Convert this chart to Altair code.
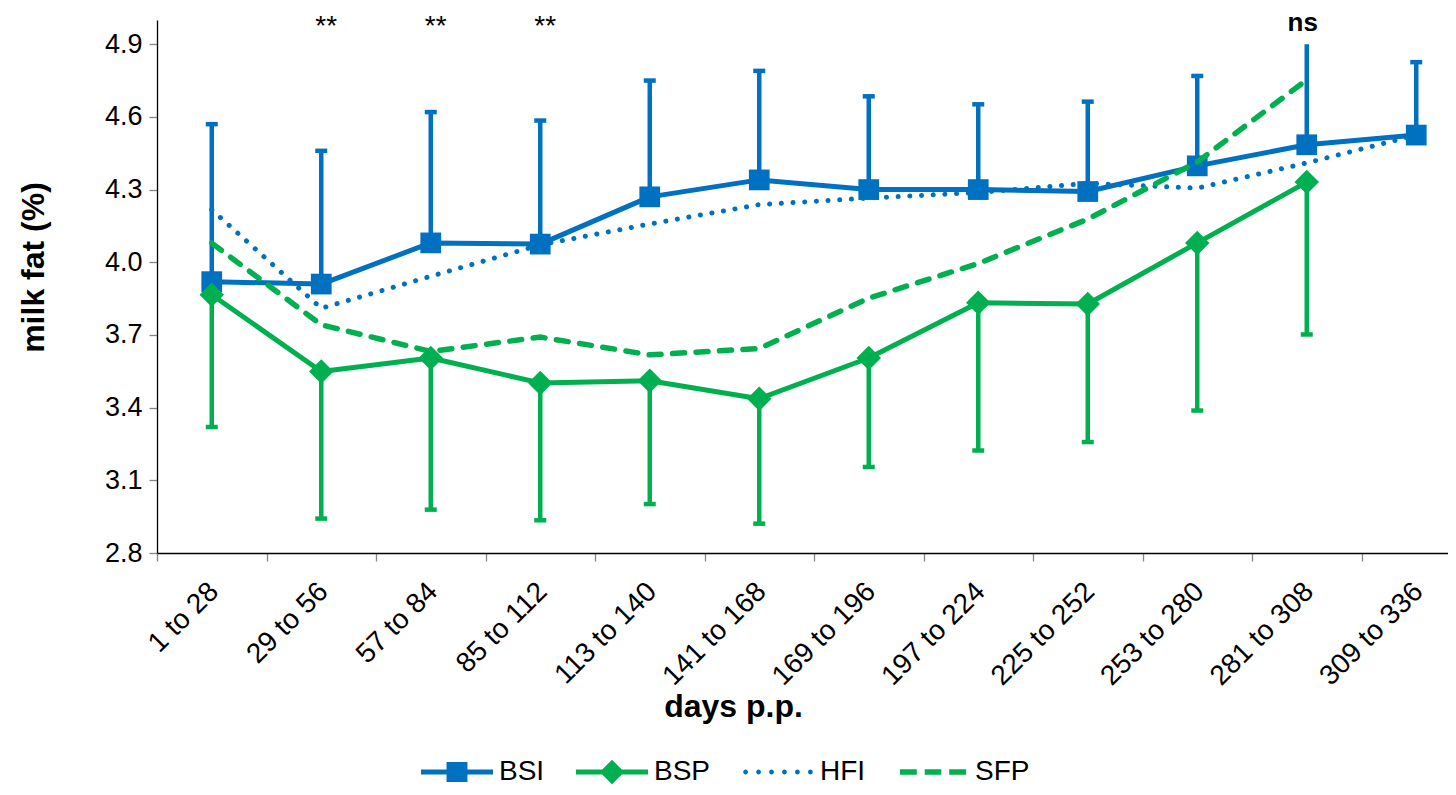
import altair as alt
import pandas as pd

categories = ["1 to 28", "29 to 56", "57 to 84", "85 to 112", "113 to 140", "141 to 168",
              "169 to 196", "197 to 224", "225 to 252", "253 to 280", "281 to 308", "309 to 336"]
series_names = ["BSI", "BSP", "HFI", "SFP"]

bsi_mean = [3.92, 3.91, 4.08, 4.075, 4.27, 4.34, 4.30, 4.30, 4.292, 4.398, 4.485, 4.525]
bsi_upper = [4.57, 4.46, 4.62, 4.585, 4.75, 4.79, 4.685, 4.652, 4.663, 4.769, 4.90, 4.826]
bsp_mean = [3.866, 3.549, 3.605, 3.502, 3.511, 3.437, 3.605, 3.833, 3.828, 4.08, 4.331, None]
bsp_lower = [3.32, 2.942, 2.979, 2.935, 3.002, 2.921, 3.155, 3.223, 3.258, 3.388, 3.702, None]
hfi_mean = [4.217, 3.81, 3.942, 4.072, 4.158, 4.238, 4.265, 4.288, 4.326, 4.306, 4.41, 4.525]
sfp_mean = [4.079, 3.742, 3.632, 3.691, 3.618, 3.644, 3.852, 3.995, 4.178, 4.414, 4.753, None]
capless = ["281 to 308"]  # BSI error bar drawn without cap there

sig_labels = ["", "**", "**", "**", "", "", "", "", "", "", "ns", ""]
star_level = 4.94
ns_level = 4.955

y_ticks = [2.8, 3.1, 3.4, 3.7, 4.0, 4.3, 4.6, 4.9]

BLUE = "#0070C0"
GREEN = "#00B050"
FONT = "Liberation Sans"
series_colors = [BLUE, GREEN, BLUE, GREEN]

rows = []
for name, vals, errs in [("BSI", bsi_mean, bsi_upper), ("BSP", bsp_mean, bsp_lower),
                         ("HFI", hfi_mean, [None] * 12), ("SFP", sfp_mean, [None] * 12)]:
    for c, v, e in zip(categories, vals, errs):
        if v is None:
            continue
        cap = None if (e is None or (name == "BSI" and c in capless)) else e
        rows.append({"cat": c, "series": name, "value": v, "err": e, "cap": cap})
df = pd.DataFrame(rows)

stars_df = pd.DataFrame({"cat": [c for c, s in zip(categories, sig_labels) if s == "**"],
                         "sig": [s for s in sig_labels if s == "**"]})
stars_df["lvl"] = star_level
ns_df = pd.DataFrame({"cat": [c for c, s in zip(categories, sig_labels) if s == "ns"],
                      "sig": [s for s in sig_labels if s == "ns"]})
ns_df["lvl"] = ns_level

x_axis = alt.Axis(
    title="days p.p.", labelAngle=315, labelAlign="right", labelBaseline="middle",
    labelFontSize=28, labelColor="black", labelFont=FONT, labelOffset=2, labelPadding=26,
    labelOverlap=False, tickBand="extent", tickSize=8, tickColor="#868686", tickWidth=1.3,
    domainColor="black", domainWidth=1.3, titleFontSize=32, titleFontWeight="bold",
    titleFont=FONT, titleColor="black", titleX=576, titleY=163, titleAlign="center",
    titleBaseline="alphabetic", grid=False)
x_enc = alt.X("cat:N", sort=categories,
              scale=alt.Scale(type="band", domain=categories, paddingInner=0, paddingOuter=0,
                              range=[0, 1314]),
              axis=x_axis)

y_axis = alt.Axis(
    title="milk fat (%)", values=y_ticks, format=".1f", labelFontSize=27, labelColor="black",
    labelFont=FONT, labelPadding=7, labelOverlap=False, tickSize=8, tickColor="#868686",
    tickWidth=1.3, domainColor="black", domainWidth=1.3, grid=False, titleFontSize=32,
    titleFontWeight="bold", titleFont=FONT, titleColor="black", titleAngle=270,
    titleX=-124, titleY=247, titleAlign="center", titleBaseline="middle")
y_scale = alt.Scale(domain=[2.8, 5.0], nice=False, zero=False)


def yenc(field):
    return alt.Y(field, type="quantitative", scale=y_scale, axis=y_axis)


base = alt.Chart(df)


def only(name):
    return base.transform_filter(alt.datum.series == name)


def stem(name, color):
    return only(name).transform_filter("isValid(datum.err)").mark_rule(
        strokeWidth=4.5, color=color).encode(x=x_enc, y=yenc("value"), y2="err:Q")


def cap(name, color):
    return only(name).transform_filter("isValid(datum.cap)").mark_tick(
        size=12, thickness=4.5, opacity=1, color=color).encode(x=x_enc, y=yenc("cap"))


def line_layer(name, color, **kw):
    return only(name).mark_line(color=color, **kw).encode(x=x_enc, y=yenc("value"))


bsi_stem, bsp_stem = stem("BSI", BLUE), stem("BSP", GREEN)
bsi_cap, bsp_cap = cap("BSI", BLUE), cap("BSP", GREEN)
bsi_line = line_layer("BSI", BLUE, strokeWidth=5, strokeJoin="round")
bsp_line = line_layer("BSP", GREEN, strokeWidth=5, strokeJoin="round")
hfi_line = line_layer("HFI", BLUE, strokeWidth=5, strokeDash=[0.1, 11.6], strokeCap="round")
sfp_line = line_layer("SFP", GREEN, strokeWidth=5.5, strokeDash=[12, 11.5], strokeCap="round")

bsi_pts = only("BSI").mark_point(filled=True, shape="square", size=430, opacity=1,
                                 color=BLUE).encode(x=x_enc, y=yenc("value"))
bsp_pts = only("BSP").mark_point(filled=True, shape="diamond", size=600, opacity=1,
                                 color=GREEN).encode(x=x_enc, y=yenc("value"))

# legend symbols (line + marker glyphs) as custom paths in the unit box
line_bar = "M-1,-0.07L1,-0.07L1,0.07L-1,0.07Z"
sym_bsi = line_bar + "M-0.29,-0.28L0.29,-0.28L0.29,0.28L-0.29,0.28Z"
sym_bsp = line_bar + "M0,-0.34L0.34,0L0,0.34L-0.34,0Z"
r = 0.066
sym_hfi = "".join(
    f"M{cx - r:.3f},0a{r},{r} 0 1,0 {2 * r:.3f},0a{r},{r} 0 1,0 {-2 * r:.3f},0"
    for cx in [-0.9, -0.54, -0.18, 0.18, 0.54, 0.9])
sym_sfp = "".join(
    f"M{a},-0.075L{b},-0.075L{b},0.075L{a},0.075Z"
    for a, b in [(-0.92, -0.45), (-0.23, 0.23), (0.45, 0.92)])

legend_spec = alt.Legend(
    title=None, orient="none", legendX=264, legendY=716, direction="horizontal", columns=4,
    columnPadding=31, labelOffset=6, symbolSize=5184, symbolStrokeWidth=0, symbolOpacity=1,
    labelFontSize=28, labelFont=FONT, labelColor="black", padding=0)

legend_layer = base.mark_point(filled=True, opacity=0).encode(
    x=x_enc, y=yenc("value"),
    color=alt.Color("series:N", scale=alt.Scale(domain=series_names, range=series_colors),
                    legend=legend_spec),
    shape=alt.Shape("series:N", scale=alt.Scale(domain=series_names,
                                                range=[sym_bsi, sym_bsp, sym_hfi, sym_sfp]),
                    legend=legend_spec))

stars = alt.Chart(stars_df).mark_text(
    fontSize=28, font=FONT, color="black", baseline="alphabetic", dx=5).encode(
    x=x_enc, y=yenc("lvl"), text="sig:N")
ns = alt.Chart(ns_df).mark_text(
    fontSize=26, font=FONT, fontWeight="bold", color="black", baseline="alphabetic", dx=-4).encode(
    x=x_enc, y=yenc("lvl"), text="sig:N")

chart = alt.layer(
    bsi_stem, bsi_cap, bsi_line, bsi_pts,
    bsp_stem, bsp_cap, bsp_line, bsp_pts,
    hfi_line, sfp_line, legend_layer, stars, ns
).properties(
    width=1291, height=533,
    autosize=alt.AutoSizeParams(type="none"),
    padding={"left": 149, "top": 12, "right": 0, "bottom": 234},
    background="white",
).configure_view(stroke=None)

chart.save("out.html", embed_options={"renderer": "svg", "actions": False})
